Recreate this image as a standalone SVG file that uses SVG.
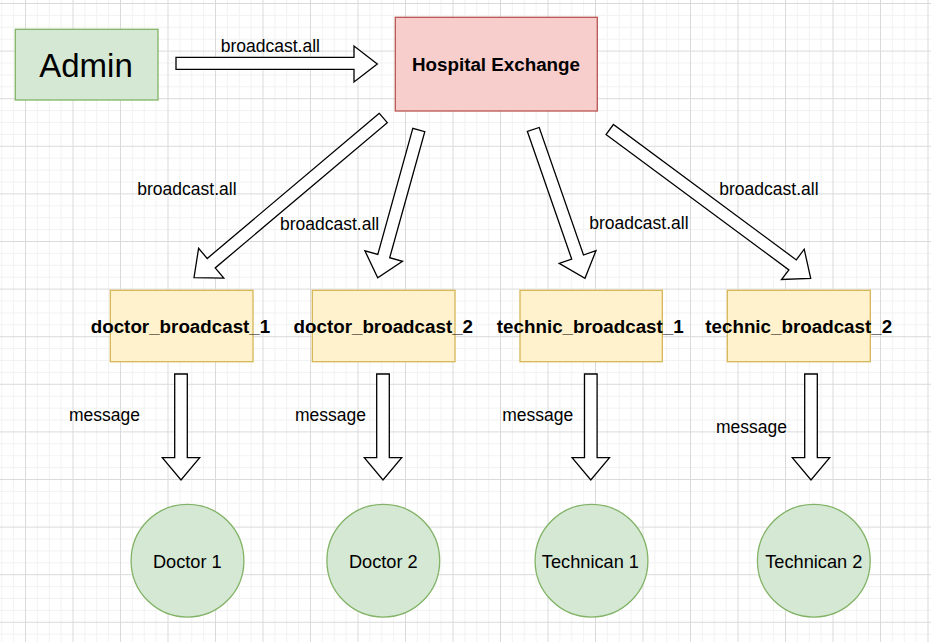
<svg xmlns="http://www.w3.org/2000/svg" width="931" height="642" viewBox="0 0 931 642">
<style>
.lbl{font-family:"Liberation Sans",Arial,sans-serif;font-size:17.5px;fill:#000}
.bold{font-family:"Liberation Sans",Arial,sans-serif;font-size:18.8px;font-weight:bold;fill:#000;text-anchor:middle}
.ctext{font-family:"Liberation Sans",Arial,sans-serif;font-size:18.2px;fill:#000;text-anchor:middle}
.green{fill:#d5e8d4;stroke:#82b366;stroke-width:1.3}
.red{fill:#f8cecc;stroke:#b85450;stroke-width:1.3}
.yellow{fill:#fff2cc;stroke:#d6b656;stroke-width:1.3}
.arrow{fill:#fff;stroke:#000;stroke-width:1.3;stroke-linejoin:miter}
</style>
<defs>
<pattern id="grid" patternUnits="userSpaceOnUse" x="25" y="3" width="47.5" height="47.6">
<rect x="11.875" y="0" width="1" height="47.6" fill="#f2f2f2"/>
<rect x="23.75" y="0" width="1" height="47.6" fill="#f2f2f2"/>
<rect x="35.625" y="0" width="1" height="47.6" fill="#f2f2f2"/>
<rect x="0" y="11.9" width="47.5" height="1" fill="#f2f2f2"/>
<rect x="0" y="23.8" width="47.5" height="1" fill="#f2f2f2"/>
<rect x="0" y="35.7" width="47.5" height="1" fill="#f2f2f2"/>
<rect x="0" y="0" width="1" height="47.6" fill="#dadada"/>
<rect x="0" y="0" width="47.5" height="1" fill="#dadada"/>
</pattern>
</defs>
<rect x="0" y="0" width="931" height="642" fill="#fff"/>
<rect x="0" y="0" width="931" height="642" fill="url(#grid)"/>

<g id="connectors">
<polygon class="arrow" points="176,57.3 354,57.3 354,46 377.3,64 354,82 354,69.3 176,69.3"/>
<polygon class="arrow" points="379.3,113.3 207.2,258.5 198.6,248.3 194,277.7 223.8,278.1 215.2,267.9 387.3,122.7"/>
<polygon class="arrow" points="412.8,128.3 377.8,254.4 364.9,250.8 377.7,277.7 402.5,261.3 389.7,257.7 424.8,131.7"/>
<polygon class="arrow" points="527.4,131.5 571.7,259.1 559.2,263.4 585,278.3 596,250.6 583.5,255 539.2,127.5"/>
<polygon class="arrow" points="606,134.5 788.9,269.9 781.5,279.5 810.7,278.3 804.2,249.2 796.3,259.9 613.4,124.5"/>
<polygon class="arrow" points="174.7,374 187.3,374 187.3,457.7 199.7,457.7 181,480 162.3,457.7 174.7,457.7"/>
<polygon class="arrow" points="376.7,374 389.3,374 389.3,457.7 401.7,457.7 383,480 364.3,457.7 376.7,457.7"/>
<polygon class="arrow" points="584.5,374 597.1,374 597.1,457.7 609.5,457.7 590.8,480 572.1,457.7 584.5,457.7"/>
<polygon class="arrow" points="804.7,374 817.3,374 817.3,457.7 829.7,457.7 811,480 792.3,457.7 804.7,457.7"/>
<text class="lbl" x="220.7" y="51.7">broadcast.all</text>
<text class="lbl" x="137.3" y="195">broadcast.all</text>
<text class="lbl" x="280" y="230">broadcast.all</text>
<text class="lbl" x="589.3" y="229.3">broadcast.all</text>
<text class="lbl" x="719.3" y="195">broadcast.all</text>
<text class="lbl" x="69" y="420.7">message</text>
<text class="lbl" x="295" y="420.7">message</text>
<text class="lbl" x="502.3" y="420.7">message</text>
<text class="lbl" x="716" y="432.7">message</text>
</g>

<g id="admin">
<rect class="green" x="15.3" y="29.3" width="142.7" height="70.7"/>
<text x="86" y="76.5" font-family="'Liberation Sans',Arial,sans-serif" font-size="33" text-anchor="middle" fill="#000">Admin</text>
</g>

<g id="hospital-exchange">
<rect class="red" x="395.3" y="17.3" width="202" height="93.7"/>
<text class="bold" x="496" y="71">Hospital Exchange</text>
</g>

<g id="doctor_broadcast_1">
<rect class="yellow" x="110.3" y="290.3" width="142.7" height="71.4"/>
<text class="bold" x="180.5" y="332.5">doctor_broadcast_1</text>
</g>
<g id="doctor_broadcast_2">
<rect class="yellow" x="312.3" y="290.3" width="142.7" height="71.4"/>
<text class="bold" x="383.3" y="332.5">doctor_broadcast_2</text>
</g>
<g id="technic_broadcast_1">
<rect class="yellow" x="520" y="290.3" width="142.3" height="71.4"/>
<text class="bold" x="590.3" y="332.5">technic_broadcast_1</text>
</g>
<g id="technic_broadcast_2">
<rect class="yellow" x="727.3" y="290.3" width="143" height="71.4"/>
<text class="bold" x="798.7" y="332.5">technic_broadcast_2</text>
</g>

<g id="doctor1">
<circle class="green" cx="187.5" cy="560.7" r="56.4"/>
<text class="ctext" x="187.3" y="568.3">Doctor 1</text>
</g>
<g id="doctor2">
<circle class="green" cx="383.3" cy="560.7" r="56.4"/>
<text class="ctext" x="383.3" y="568.3">Doctor 2</text>
</g>
<g id="technican1">
<circle class="green" cx="591.5" cy="560.7" r="56.4"/>
<text class="ctext" x="590.4" y="568.3">Technican 1</text>
</g>
<g id="technican2">
<circle class="green" cx="813.8" cy="560.7" r="56.4"/>
<text class="ctext" x="813.8" y="568.3">Technican 2</text>
</g>
</svg>
